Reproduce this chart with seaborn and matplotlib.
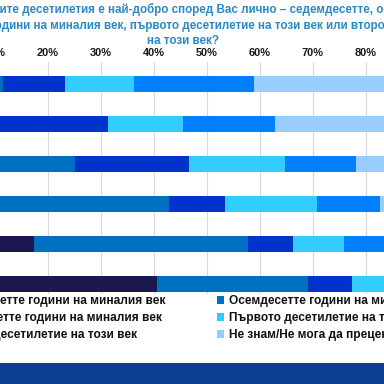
import matplotlib
matplotlib.use("Agg")
import matplotlib.pyplot as plt
import seaborn as sns
import pandas as pd
from matplotlib.patches import Patch, Rectangle

# ---------------- data ----------------
groups = ["18-29", "30-39", "40-49", "50-59", "60-69", "70+"]
series = [
    "Седемдесетте години на миналия век",
    "Осемдесетте години на миналия век",
    "Деветдесетте години на миналия век",
    "Първото десетилетие на този век",
    "Второто десетилетие на този век",
    "Не знам/Не мога да преценя",
]
seventies = [2.0, 3.0, 4.0, 7.0, 17.4, 40.7]
eighties = [9.5, 6.0, 21.2, 35.9, 40.4, 28.5]
nineties = [11.8, 22.3, 21.5, 10.6, 8.4, 8.2]
two_thousands = [13.0, 14.3, 18.1, 17.4, 9.7, 9.0]
twenty_tens = [22.6, 17.3, 13.3, 11.8, 11.0, 5.0]
dont_know = [41.1, 37.1, 21.9, 17.3, 13.1, 8.6]
values = [seventies, eighties, nineties, two_thousands, twenty_tens, dont_know]
colors = ["#1B1A50", "#0070C0", "#0033CC", "#33CCFF", "#0080FF", "#99CCFF"]
ticks = [0, 10, 20, 30, 40, 50, 60, 70, 80, 90, 100]
tick_labels = [f"{t}%" for t in ticks]
title_lines = [
    "Кое от последните десетилетия е най-добро според Вас лично – седемдесетте, осемдесетте,",
    "деветдесетте години на миналия век, първото десетилетие на този век или второто десетилетие",
    "на този век?",
]

# ---------------- figure ----------------
sns.set_style("white")
FONT = "Liberation Sans"
plt.rcParams["font.family"] = [FONT, "DejaVu Sans"]

W = H = 384
fig = plt.figure(figsize=(3.84, 3.84), dpi=100)
renderer = fig.canvas.get_renderer()


def text_w(s, size, weight="bold"):
    t = fig.text(0, 0, s, fontsize=size, fontweight=weight, family=FONT)
    w = t.get_window_extent(renderer).width
    t.remove()
    return w


# axes: 0% at x=-58.3 px, 100% at x=471.7 px ; rows centred at 84 + 40*i
ax_left, ax_right = -58.3, 471.7
ax_top, ax_bot = 62, 294
ax = fig.add_axes([ax_left / W, 1 - ax_bot / H, (ax_right - ax_left) / W, (ax_bot - ax_top) / H])

df = pd.DataFrame({"group": groups})
cum = [0.0] * len(groups)
cums = []
for v in values:
    cum = [c + x for c, x in zip(cum, v)]
    cums.append(cum)

for i in range(len(values) - 1, -1, -1):
    df["cum"] = cums[i]
    sns.barplot(data=df, x="cum", y="group", orient="h", color=colors[i],
                saturation=1, width=0.39, linewidth=0, ax=ax, zorder=3)

ax.set_xlim(0, 100)
ax.set_ylim(5.25, -0.55)
ax.set_xticks(ticks)
tick_fs = 10 * 22 / text_w("20%", 10)
ax.set_xticklabels(tick_labels, fontsize=tick_fs, fontweight="bold", color="#1a1a1a", family=FONT)
ax.xaxis.tick_top()
ax.tick_params(axis="x", length=0, pad=3.0)
ax.tick_params(axis="y", length=0, labelleft=False)
ax.set_xlabel("")
ax.set_ylabel("")
ax.grid(axis="x", color="#D9D9D9", lw=0.8, zorder=0)
ax.grid(axis="y", visible=False)
ax.set_axisbelow(True)
for s in ax.spines.values():
    s.set_visible(False)

# ---------------- title ----------------
title_color = "#2B8AC6"
ts = 10 * 381 / text_w("ите десетилетия е най-добро според Вас лично – седемдесетте, о", 10)
x1 = -text_w("Кое от последн", ts)
x2 = -text_w("деветдесетте г", ts) - 5
fig.text(x1 / W, 1 - 12.5 / H, title_lines[0], fontsize=ts, fontweight="bold",
         color=title_color, ha="left", va="baseline", family=FONT)
fig.text(x2 / W, 1 - 28.8 / H, title_lines[1], fontsize=ts, fontweight="bold",
         color=title_color, ha="left", va="baseline", family=FONT)
fig.text(183 / W, 1 - 44.5 / H, title_lines[2], fontsize=ts, fontweight="bold",
         color=title_color, ha="center", va="baseline", family=FONT)

# ---------------- legends ----------------
lfs = 10 * 158 / text_w("Не знам/Не мога да прецен", 10)
lfs_px = lfs * 100 / 72
hl, htp = 0.6, 0.45
handles = [Patch(facecolor=c, edgecolor="none") for c in colors]
prop = {"family": FONT, "weight": "bold", "size": lfs}
leg_top = 295
common = dict(loc="upper left", frameon=False, prop=prop, borderpad=0, borderaxespad=0,
              handlelength=hl, handleheight=hl, handletextpad=htp, labelspacing=0.42, ncol=1)

left_idx = [0, 2, 4]
right_idx = [1, 3, 5]
left_text_x = -text_w("Седемдес", lfs)
left_x = left_text_x - (hl + htp) * lfs_px
leg1 = fig.legend([handles[i] for i in left_idx], [series[i] for i in left_idx],
                  bbox_to_anchor=(left_x / W, 1 - leg_top / H), **common)
for t in leg1.get_texts():
    t.set_color("#111111")
leg2 = fig.legend([handles[i] for i in right_idx], [series[i] for i in right_idx],
                  bbox_to_anchor=(217 / W, 1 - leg_top / H), **common)
for t in leg2.get_texts():
    t.set_color("#111111")

# ---------------- bottom banner ----------------
fig.add_artist(Rectangle((0, 0), 1, 21 / H, transform=fig.transFigure,
                         facecolor="#0B3D91", edgecolor="none"))

fig.savefig("out.png", dpi=100)
